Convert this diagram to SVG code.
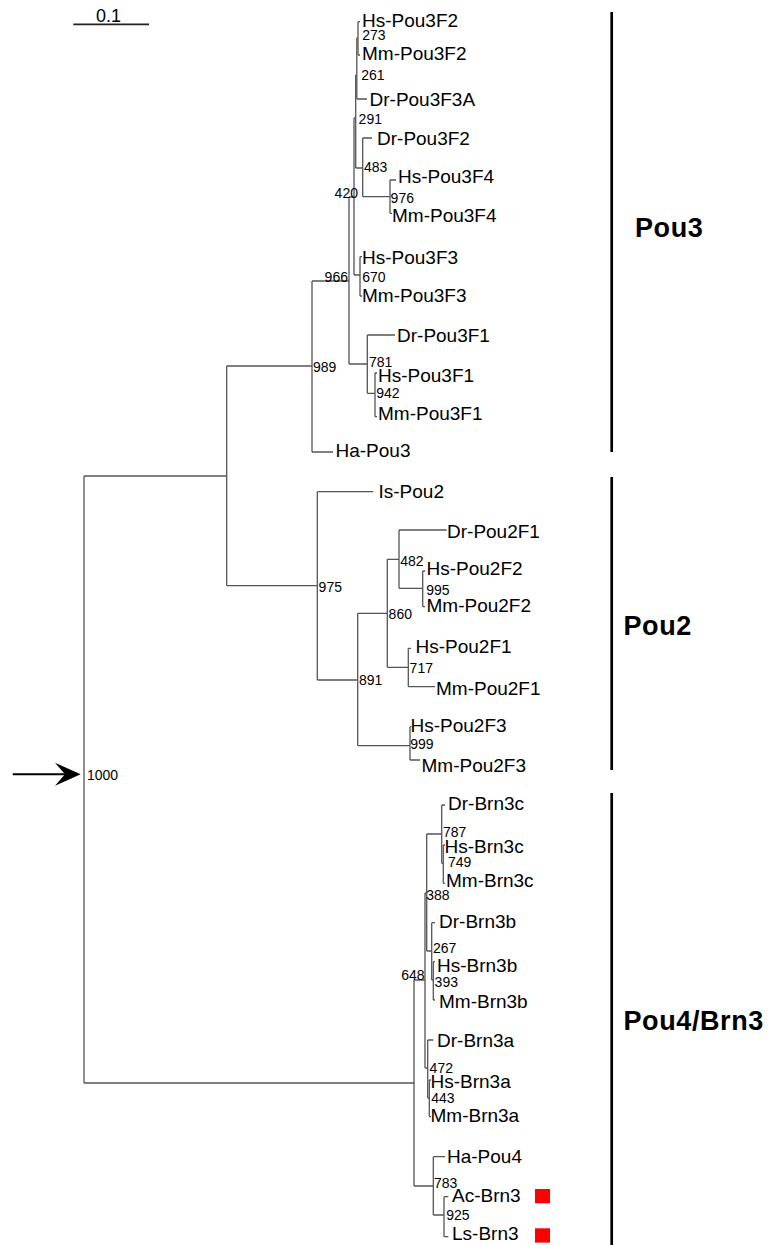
<svg xmlns="http://www.w3.org/2000/svg" width="772" height="1245" viewBox="0 0 772 1245">
<style>
.br{fill:none;stroke:#555;stroke-width:1.3}
.lf{font-family:"Liberation Sans",Arial,sans-serif;font-size:19px;fill:#000}
.bs{font-family:"Liberation Sans",Arial,sans-serif;font-size:14px;fill:#000}
.grp{font-family:"Liberation Sans",Arial,sans-serif;font-size:27px;font-weight:bold;letter-spacing:0.6px;fill:#000}
.bar{stroke:#000;stroke-width:2.7}
</style>
<rect width="772" height="1245" fill="#fff"/>
<g id="scale">
<line x1="73.3" y1="24.3" x2="149" y2="24.3" stroke="#222" stroke-width="1.8"/>
<text x="96" y="21.7" font-family="Liberation Sans,Arial,sans-serif" font-size="18">0.1</text>
</g>
<g id="root-arrow">
<line x1="12.7" y1="774.3" x2="66" y2="774.3" stroke="#000" stroke-width="2"/>
<polygon points="80.7,774.3 55,762.7 65,774.3 55,785.7" fill="#000"/>
</g>
<g id="connectors" class="br">
<path d="M84,476V1083M84,476H226.7M84,1083H414"/>
<path d="M226.7,366V585.7M226.7,366H312M226.7,585.7H317.3"/>
<path d="M312,281V452M312,281H349M312,452H333"/>
<path d="M349,197V364M349,197H354M349,364H367.3"/>
<path d="M354,118V275M354,118H355.7M354,275H360"/>
<path d="M360,256.7V296M360,256.7H362M360,296H362"/>
<path d="M355.7,75V168M355.7,75H356.8M355.7,168H362.7"/>
<path d="M356.8,38V99M356.8,38H358M356.8,99H367"/>
<path d="M358,21.7V55M358,21.7H360M358,55H360"/>
<path d="M362.7,138V196.7M362.7,138H372M362.7,196.7H390"/>
<path d="M390,180V213.3M390,180H396M390,213.3H392"/>
<path d="M367.3,335V393.3M367.3,335H395M367.3,393.3H375"/>
<path d="M375,373V416.7M375,373H377M375,416.7H377"/>
<path d="M317.3,491.7V680M317.3,491.7H373.3M317.3,680H357.7"/>
<path d="M357.7,613.3V745.7M357.7,613.3H387.3M357.7,745.7H410"/>
<path d="M387.3,559.3V667.3M387.3,559.3H399M387.3,667.3H408.3"/>
<path d="M399,530V588.3M399,530H446.7M399,588.3H422.7"/>
<path d="M422.7,571V606.7M422.7,571H425M422.7,606.7H425"/>
<path d="M408.3,648.3V686.7M408.3,648.3H411M408.3,686.7H435"/>
<path d="M410,726.7V760M410,726.7H411.5M410,760H420"/>
<path d="M414,980V1186M414,980H425M414,1186H433.3"/>
<path d="M425,893V1068M425,893H426.7M425,1068H427.7"/>
<path d="M426.7,834V951M426.7,834H441.7M426.7,951H431.7"/>
<path d="M441.7,805V863.3M441.7,805H445M441.7,863.3H443.3"/>
<path d="M443.3,845V883.3M443.3,845H445M443.3,883.3H445"/>
<path d="M431.7,922.7V980M431.7,922.7H435M431.7,980H433.3"/>
<path d="M433.3,961.7V1000M433.3,961.7H435M433.3,1000H435"/>
<path d="M427.7,1040V1098M427.7,1040H433.3M427.7,1098H429.3"/>
<path d="M429.3,1080V1116.7M429.3,1080H431M429.3,1116.7H431"/>
<path d="M433.3,1156.7V1215M433.3,1156.7H445M433.3,1215H444"/>
<path d="M444,1196.7V1236.7M444,1196.7H448.3M444,1236.7H448.3"/>
</g>
<g id="leaves" class="lf">
<text x="362" y="26.7">Hs-Pou3F2</text>
<text x="362" y="60">Mm-Pou3F2</text>
<text x="369.5" y="106">Dr-Pou3F3A</text>
<text x="377" y="145">Dr-Pou3F2</text>
<text x="398" y="183">Hs-Pou3F4</text>
<text x="392" y="222">Mm-Pou3F4</text>
<text x="362" y="264.3">Hs-Pou3F3</text>
<text x="362" y="301.7">Mm-Pou3F3</text>
<text x="397" y="341.7">Dr-Pou3F1</text>
<text x="378" y="381.7">Hs-Pou3F1</text>
<text x="378" y="420">Mm-Pou3F1</text>
<text x="335.5" y="456.7">Ha-Pou3</text>
<text x="378.5" y="498.3">Is-Pou2</text>
<text x="447" y="538.3">Dr-Pou2F1</text>
<text x="426.5" y="575">Hs-Pou2F2</text>
<text x="426.5" y="611.7">Mm-Pou2F2</text>
<text x="415.5" y="653.3">Hs-Pou2F1</text>
<text x="436" y="695">Mm-Pou2F1</text>
<text x="410.5" y="731.7">Hs-Pou2F3</text>
<text x="421.5" y="771.7">Mm-Pou2F3</text>
<text x="448" y="810">Dr-Brn3c</text>
<text x="444.5" y="853.3">Hs-Brn3c</text>
<text x="446" y="886.7">Mm-Brn3c</text>
<text x="439" y="928">Dr-Brn3b</text>
<text x="437" y="971.7">Hs-Brn3b</text>
<text x="439" y="1008">Mm-Brn3b</text>
<text x="437" y="1046.7">Dr-Brn3a</text>
<text x="430.5" y="1088">Hs-Brn3a</text>
<text x="430.5" y="1121.7">Mm-Brn3a</text>
<text x="447" y="1163.3">Ha-Pou4</text>
<text x="452" y="1201.7">Ac-Brn3</text>
<text x="452" y="1240">Ls-Brn3</text>
</g>
<g id="bootstrap" class="bs">
<text x="362.3" y="40">273</text>
<text x="361.3" y="80">261</text>
<text x="358.6" y="124">291</text>
<text x="363.9" y="172">483</text>
<text x="390.6" y="203">976</text>
<text x="334.6" y="198">420</text>
<text x="362.3" y="281.7">670</text>
<text x="324.6" y="281.7">966</text>
<text x="368.9" y="366.7">781</text>
<text x="376.3" y="398">942</text>
<text x="312.9" y="371.7">989</text>
<text x="318.6" y="591.7">975</text>
<text x="400.3" y="566">482</text>
<text x="426.3" y="595">995</text>
<text x="388.6" y="619.3">860</text>
<text x="409.6" y="673.3">717</text>
<text x="358.9" y="685">891</text>
<text x="410.3" y="749.3">999</text>
<text x="86.9" y="780">1000</text>
<text x="442.9" y="836.7">787</text>
<text x="447.9" y="867.3">749</text>
<text x="426.3" y="900">388</text>
<text x="432.9" y="953">267</text>
<text x="401.3" y="980">648</text>
<text x="434.6" y="986.7">393</text>
<text x="429.6" y="1073">472</text>
<text x="431.3" y="1103">443</text>
<text x="433.9" y="1188">783</text>
<text x="446.3" y="1220">925</text>
</g>
<g id="markers" fill="#f00">
<rect x="535" y="1189" width="15" height="14.3"/>
<rect x="535" y="1228.3" width="15" height="14.3"/>
</g>
<g id="group-pou3">
<line class="bar" x1="611.7" y1="12" x2="611.7" y2="452"/>
<text class="grp" x="635" y="236.7">Pou3</text>
</g>
<g id="group-pou2">
<line class="bar" x1="611.7" y1="477" x2="611.7" y2="770"/>
<text class="grp" x="623.5" y="635">Pou2</text>
</g>
<g id="group-pou4">
<line class="bar" x1="611.7" y1="793" x2="611.7" y2="1245"/>
<text class="grp" x="623.5" y="1030">Pou4/Brn3</text>
</g>
</svg>
